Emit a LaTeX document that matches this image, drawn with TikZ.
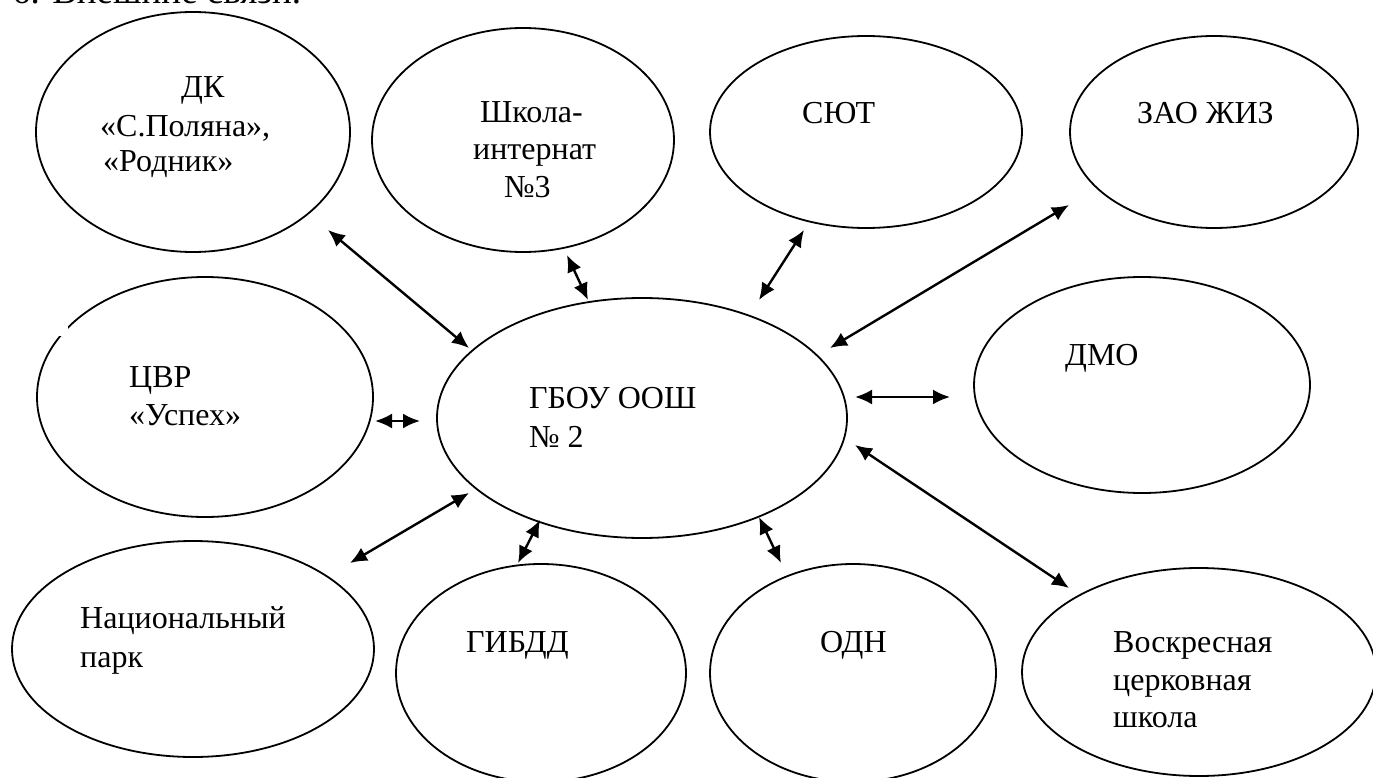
\documentclass[tikz,border=0pt]{standalone}
\usepackage{fontspec}
\setmainfont{Liberation Serif}
\usetikzlibrary{shapes.geometric,arrows.meta}
\begin{document}
\begin{tikzpicture}[x=1pt,y=-1pt,
  ell/.style={draw,line width=1.8pt,ellipse,inner sep=0pt},
  lbl/.style={anchor=base west,inner sep=0pt,font=\fontsize{32}{38}\selectfont},
  link/.style={line width=2.4pt,{Latex[length=17pt,width=15pt]}-{Latex[length=17pt,width=15pt]}}]
\useasboundingbox (0,0) rectangle (1373,778);
\clip (0,0) rectangle (1373,778);
% header (cut off at the top)
\node[anchor=base west,inner sep=0pt,font=\fontsize{37}{40}\selectfont] (hdr) at (12,4) {6. Внешние связи.};
% ellipses
\node[ell,minimum width=314pt,minimum height=240pt] (dk) at (193,132) {};
\node[ell,minimum width=302pt,minimum height=224pt] (shk) at (523,140) {};
\node[ell,minimum width=312pt,minimum height=192pt] (syut) at (866,132) {};
\node[ell,minimum width=288pt,minimum height=192pt] (zao) at (1214,132) {};
\node[ell,minimum width=336pt,minimum height=240pt] (cvr) at (205,397) {};
\node[ell,minimum width=410pt,minimum height=240pt] (gb) at (642,418) {};
\node[ell,minimum width=336pt,minimum height=216pt] (dmo) at (1142,385) {};
\node[ell,minimum width=362pt,minimum height=216pt] (nat) at (193,649) {};
\node[ell,minimum width=290pt,minimum height=218pt] (gibdd) at (541,673) {};
\node[ell,minimum width=286pt,minimum height=218pt] (odn) at (853,673) {};
\node[ell,minimum width=354pt,minimum height=208pt] (vs) at (1199,672) {};
\fill[white] (58,322) rectangle (68,336);
% labels
\node[lbl] (dk1) at (181,98) {ДК};
\node[lbl] (dk2) at (100,137) {«С.Поляна»,};
\node[lbl] (dk3) at (103,172) {«Родник»};
\node[lbl] (shk1) at (480,123) {Школа-};
\node[lbl] (shk2) at (473,160) {интернат};
\node[lbl] (shk3) at (504,197) {№3};
\node[lbl] (syut1) at (802,124) {СЮТ};
\node[lbl] (zao1) at (1137,124) {ЗАО ЖИЗ};
\node[lbl] (cvr1) at (129,387) {ЦВР};
\node[lbl] (cvr2) at (129,425) {«Успех»};
\node[lbl] (gb1) at (529,408) {ГБОУ ООШ};
\node[lbl] (gb2) at (529,447) {№ 2};
\node[lbl] (dmo1) at (1065,365) {ДМО};
\node[lbl] (nat1) at (80,628) {Национальный};
\node[lbl] (nat2) at (80,667) {парк};
\node[lbl] (gibdd1) at (466,652) {ГИБДД};
\node[lbl] (odn1) at (820,652) {ОДН};
\node[lbl] (vs1) at (1113,652) {Воскресная};
\node[lbl] (vs2) at (1113,690) {церковная};
\node[lbl] (vs3) at (1113,727) {школа};
% connector end points
\coordinate (dk-e) at (328,230);   \coordinate (gb-dk) at (469,348);
\coordinate (shk-e) at (567,255);  \coordinate (gb-shk) at (588,300);
\coordinate (syut-e) at (804,230); \coordinate (gb-syut) at (759,300);
\coordinate (zao-e) at (1069,205); \coordinate (gb-zao) at (830,348);
\coordinate (cvr-e) at (375,421);  \coordinate (gb-cvr) at (420,421);
\coordinate (dmo-e) at (950,397);  \coordinate (gb-dmo) at (855,397);
\coordinate (nat-e) at (350,563);  \coordinate (gb-nat) at (469,493);
\coordinate (gibdd-e) at (518,563);\coordinate (gb-gibdd) at (540,520);
\coordinate (odn-e) at (781,563);  \coordinate (gb-odn) at (759,517);
\coordinate (vs-e) at (1069,588);  \coordinate (gb-vs) at (855,445);
% connectors
\draw[link] (dk-e) -- (gb-dk);
\draw[link] (shk-e) -- (gb-shk);
\draw[link] (syut-e) -- (gb-syut);
\draw[link] (zao-e) -- (gb-zao);
\draw[link] (cvr-e) -- (gb-cvr);
\draw[link] (dmo-e) -- (gb-dmo);
\draw[link] (nat-e) -- (gb-nat);
\draw[link] (gibdd-e) -- (gb-gibdd);
\draw[link] (odn-e) -- (gb-odn);
\draw[link] (vs-e) -- (gb-vs);
\end{tikzpicture}
\end{document}
